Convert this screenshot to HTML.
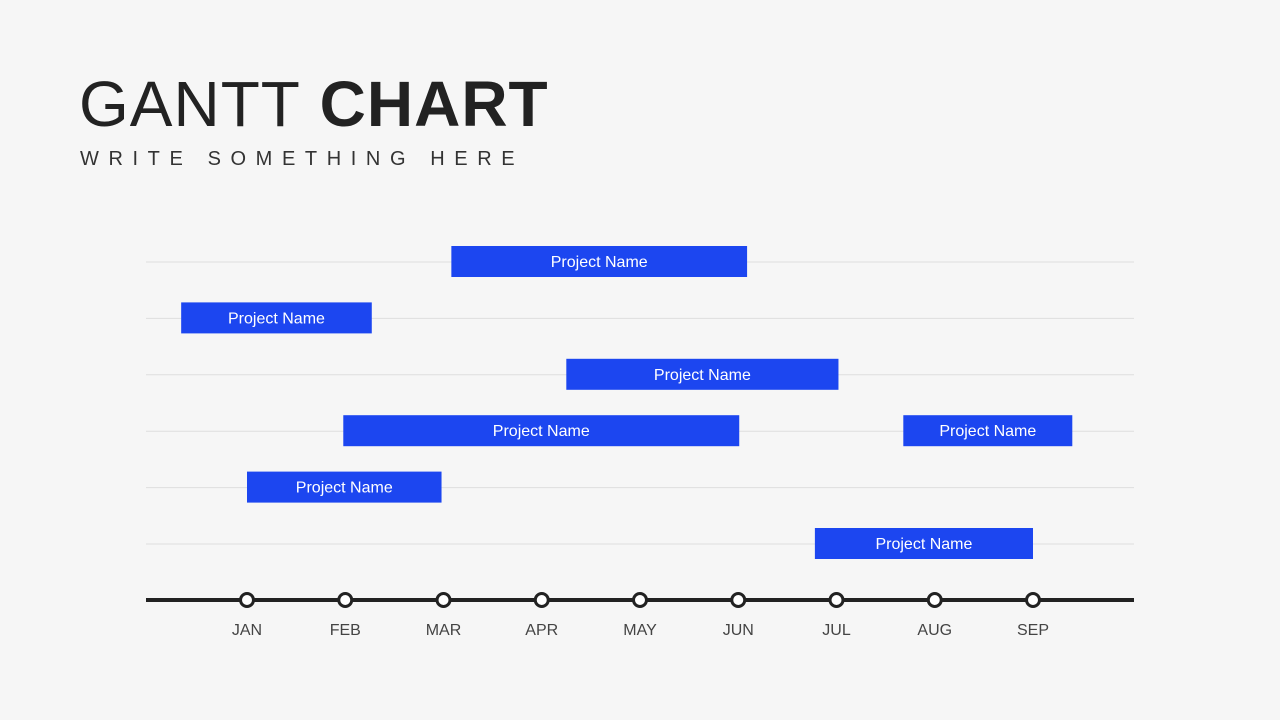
<!DOCTYPE html>
<html><head><meta charset="utf-8">
<style>
body{margin:0;width:1280px;height:720px;background:#f6f6f6;font-family:"Liberation Sans",sans-serif;overflow:hidden}
#title{position:absolute;left:79px;top:66px;font-size:64px;color:#222;letter-spacing:1px;margin:0;font-weight:normal;line-height:76px}
#title b{font-weight:bold}
#sub{position:absolute;left:80px;top:148px;font-size:20px;letter-spacing:9.6px;color:#333}
svg{position:absolute;left:0;top:0}
</style></head><body>
<h1 id="title"><span style="font-weight:300;color:#222">GANTT</span> <b>CHART</b></h1>
<div id="sub">WRITE SOMETHING HERE</div>
<svg id="chart" width="1280" height="720"></svg>
<script>
const months=["JAN","FEB","MAR","APR","MAY","JUN","JUL","AUG","SEP"];
const rows=[0,1,2,3,3,4,5];
const starts=[2.08,-0.67,3.25,0.98,6.68,0,5.78];
const ends=[5.09,1.27,6.02,5.01,8.40,1.98,8.0];
const labels=["Project Name","Project Name","Project Name","Project Name","Project Name","Project Name","Project Name"];
const NS="http://www.w3.org/2000/svg";
const svg=document.getElementById('chart');
const x=m=>247+98.25*m;
const rowY=r=>262+56.4*r;
function mk(t,a){const e=document.createElementNS(NS,t);for(const k in a)e.setAttribute(k,a[k]);svg.appendChild(e);return e;}
for(let r=0;r<6;r++){
 const g=mk('line',{x1:146,x2:1134,y1:rowY(r),y2:rowY(r),stroke:'#dedede','stroke-width':1});
 
 
}
const ax=mk('line',{x1:146,x2:1134,y1:600,y2:600,stroke:'#222','stroke-width':4});


months.forEach((m,i)=>{
 const c=mk('circle',{cx:x(i),cy:600,r:6.5,fill:'#fff',stroke:'#222','stroke-width':3});
 
 
 const t=mk('text',{x:x(i),y:635,'text-anchor':'middle','font-size':16,fill:'#444','font-family':'Liberation Sans'});
 t.textContent=m;
 
 
});
starts.forEach((s,i)=>{
 const y=rowY(rows[i]);
 const b=mk('rect',{x:x(s),y:y-16,width:x(ends[i])-x(s),height:31,fill:'#1c46f0'});
 
 
 const t=mk('text',{x:(x(s)+x(ends[i]))/2,y:y+5,'text-anchor':'middle','font-size':16,fill:'#fff','font-family':'Liberation Sans'});
 t.textContent=labels[i];
 
 
});
</script>
</body></html>
